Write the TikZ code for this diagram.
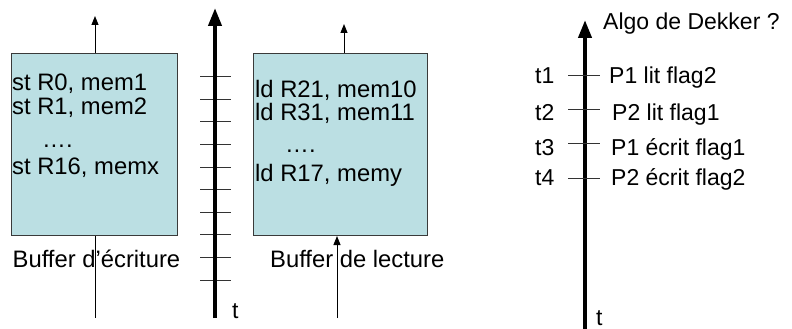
\documentclass[tikz,border=0pt]{standalone}
\usepackage{fontspec}
\setmainfont{Liberation Sans}
\usetikzlibrary{arrows.meta}
\definecolor{boxfill}{HTML}{BBDFE3}
\definecolor{boxline}{HTML}{3A3A3A}
\definecolor{tickcol}{HTML}{333333}
\tikzset{
  buf/.style={draw=boxline, fill=boxfill, line width=1pt},
  txt/.style={anchor=base west, inner sep=0pt, font=\fontsize{23}{27}\selectfont},
  btxt/.style={anchor=base west, inner sep=0pt, font=\fontsize{23.8}{28}\selectfont},
  thinarrow/.style={line width=1pt, -{Triangle[width=7pt,length=9pt]}},
  thinline/.style={line width=1pt},
  timeaxis/.style={line width=4pt, -{Triangle[width=13pt,length=18pt]}},
  tickline/.style={draw=tickcol, line width=1pt},
}
\begin{document}
\begin{tikzpicture}[x=1pt,y=-1pt]
\useasboundingbox (0,0) rectangle (792,329);
% boxes
\node[buf, minimum width=166pt, minimum height=182pt, anchor=north west, inner sep=0pt] (wbox) at (11,53) {};
\node[buf, minimum width=174pt, minimum height=182pt, anchor=north west, inner sep=0pt] (rbox) at (253,53) {};
% write buffer text
\node[btxt] (w1) at (12,90) {st R0, mem1};
\node[btxt] (w2) at (12,114) {st R1, mem2};
\node[btxt] (w3) at (42,147) {….};
\node[btxt] (w4) at (12,174) {st R16, memx};
\node[btxt] (wlab) at (12.5,267) {Buffer d’écriture};
% read buffer text
\node[btxt] (r1) at (255,97) {ld R21, mem10};
\node[btxt] (r2) at (255,120) {ld R31, mem11};
\node[btxt] (r3) at (285,152) {….};
\node[btxt] (r4) at (255,181) {ld R17, memy};
\node[btxt] (rlab) at (270,267) {Buffer de lecture};
% arrows of buffers
\coordinate (wtop) at (95,16);
\coordinate (wbot) at (95,318);
\draw[thinarrow] (wbox.north -| wtop) -- (wtop);
\draw[thinline] (wbox.south -| wbot) -- (wbot);
\coordinate (rtop) at (344,24);
\coordinate (rbot) at (337,318);
\draw[thinarrow] (rbox.north -| rtop) -- (rtop);
\draw[thinarrow] (rbot) -- (rbox.south -| rbot);
% left time axis
\coordinate (la0) at (215,318);
\coordinate (la1) at (215,8);
\foreach \i in {0,...,9} {
  \coordinate (lt\i a) at (200,{76.7+22.6*\i});
  \coordinate (lt\i b) at (231,{76.7+22.6*\i});
  \draw[tickline] (lt\i a) -- (lt\i b);
}
\draw[timeaxis] (la0) -- (la1);
\node[txt] (lt) at (232,318) {t};
% right time axis
\coordinate (ra0) at (585,329);
\coordinate (ra1) at (585,20);
\draw[timeaxis] (ra0) -- (ra1);
\node[txt] (rt) at (596,325) {t};
\node[txt] (algo) at (603,30) {Algo de Dekker ?};
\foreach \n/\y/\ty/\lab/\lx in {1/75.7/83/P1 lit flag2/609, 2/109/120/P2 lit flag1/612, 3/143/155/P1 écrit flag1/611, 4/178/185/P2 écrit flag2/611} {
  \coordinate (rt\n a) at (568,\y);
  \coordinate (rt\n b) at (600,\y);
  \draw[tickline] (rt\n a) -- (rt\n b);
  \node[txt] (tl\n) at (535,\ty) {t\n};
  \node[txt] (ev\n) at (\lx,\ty) {\lab};
}
\end{tikzpicture}
\end{document}
